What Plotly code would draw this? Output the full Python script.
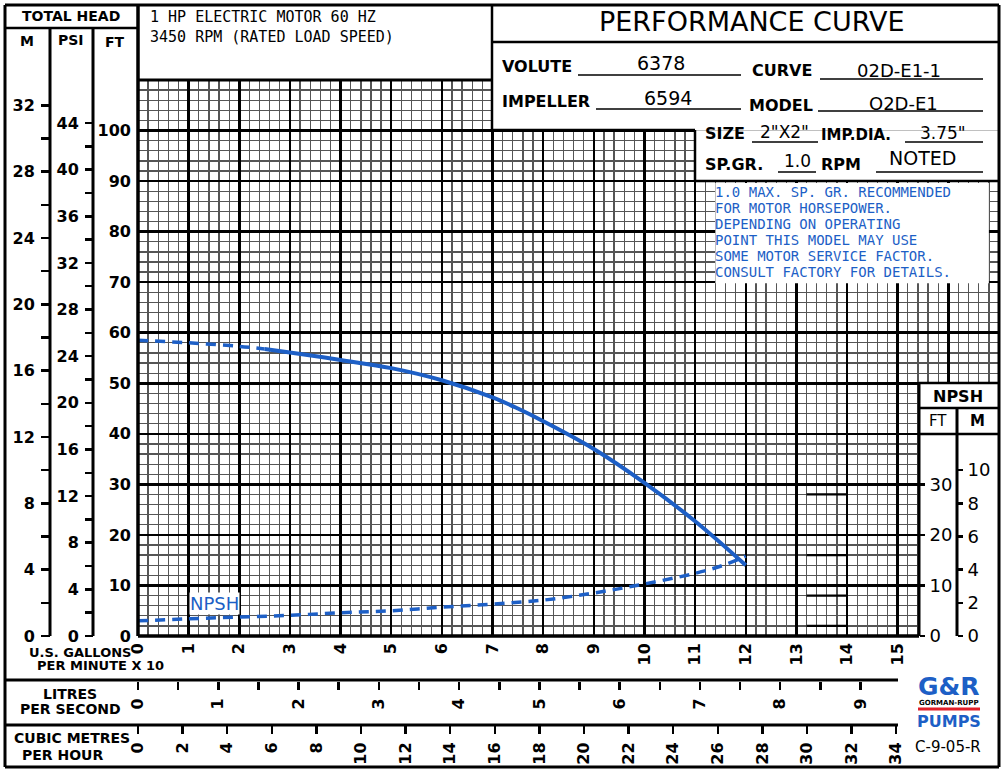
import plotly.graph_objects as go

# ---------------- data (flow in U.S. GPM x 10, head in feet) ----------------
head_dash_flow = [0, 1, 2, 2.5]
head_dash_ft = [58.5, 58.0, 57.3, 56.8]
head_flow = [2.5, 3, 4, 5, 6, 7, 7.5, 8, 9, 10, 11, 12]
head_ft = [56.8, 56.1, 54.6, 53.0, 50.6, 47.2, 45.0, 42.5, 37.0, 30.3, 22.7, 14.0]
npsh_flow = [0, 1, 2, 3, 4, 5, 6, 7, 8, 9, 10, 11, 11.5, 12]
npsh_ft = [3.0, 3.4, 3.75, 4.1, 4.6, 5.0, 5.7, 6.3, 7.1, 8.5, 10.3, 12.4, 13.8, 15.8]

gpm_ticks = list(range(0, 16))
ft_ticks = list(range(0, 101, 10))
m_ticks = list(range(0, 33, 4))
m_minor = list(range(2, 31, 4))
psi_ticks = list(range(0, 45, 4))
psi_minor = list(range(2, 43, 4))
npsh_ft_ticks = [0, 10, 20, 30]
npsh_m_ticks = [0, 2, 4, 6, 8, 10]
lps_ticks = list(range(0, 10))
lps_minor = [0.5, 1.5, 2.5, 3.5, 4.5, 5.5, 6.5, 7.5, 8.5]
m3h_ticks = list(range(0, 35, 2))

# unit conversions
FT_PER_M = 3.28084
FT_PER_PSI = 2.30666
LPS_PER_UNIT = 0.630902   # 10 US GPM in L/s
M3H_PER_UNIT = 2.27125    # 10 US GPM in m3/h

X_MAX = 17
Y_MAX = 110

W, H = 1001, 769
BLUE = "#1d5fc6"
FONT = "DejaVu Sans"
MONO = "DejaVu Sans Mono"


def PX(p):
    return p / W


def PY(p):
    return 1 - p / H


fig = go.Figure()

# curves
fig.add_trace(go.Scatter(x=head_dash_flow, y=head_dash_ft, mode="lines",
                         line=dict(color=BLUE, width=3.5, dash="10px,7px", shape="spline"),
                         hoverinfo="skip", showlegend=False))
fig.add_trace(go.Scatter(x=head_flow, y=head_ft, mode="lines",
                         line=dict(color=BLUE, width=4, shape="spline"),
                         hoverinfo="skip", showlegend=False))
fig.add_trace(go.Scatter(x=npsh_flow, y=npsh_ft, mode="lines",
                         line=dict(color=BLUE, width=3.5, dash="10px,7px", shape="spline"),
                         hoverinfo="skip", showlegend=False))
# empty traces to keep secondary axes alive
for xa, ya in [("x2", "y"), ("x3", "y"), ("x", "y2"), ("x", "y3"), ("x", "y4"), ("x", "y5")]:
    fig.add_trace(go.Scatter(x=[], y=[], xaxis=xa, yaxis=ya, hoverinfo="skip", showlegend=False))

xdom = [PX(138), PX(999)]
ydom = [PY(636), PY(80)]

tickfont = dict(family=FONT, size=16, color="black", weight="bold")
tickfont_y = dict(family=FONT, size=16, color="black", weight="bold")

common = dict(zeroline=False, showline=False, automargin=False, fixedrange=True)

fig.update_layout(
    width=W, height=H, template="none",
    margin=dict(l=0, r=0, t=0, b=0, pad=0),
    paper_bgcolor="white", plot_bgcolor="white",
    showlegend=False,
    xaxis=dict(domain=xdom, range=[0, X_MAX], anchor="y",
               tickmode="array", tickvals=list(range(0, X_MAX + 1)),
               ticktext=[str(v) if v in gpm_ticks else "" for v in range(0, X_MAX + 1)],
               tickangle=-90, ticks="", ticklabelstandoff=3, tickfont=tickfont,
               showgrid=True, gridcolor="black", gridwidth=2.5,
               minor=dict(tickmode="linear", tick0=0, dtick=0.2, showgrid=True,
                          gridcolor="#555555", gridwidth=1.3, ticks=""),
               **common),
    yaxis=dict(domain=ydom, range=[0, Y_MAX], anchor="x",
               tickmode="array", tickvals=list(range(0, Y_MAX + 1, 10)),
               ticktext=[str(v) if v in ft_ticks else "" for v in range(0, Y_MAX + 1, 10)],
               ticks="", ticklabelstandoff=6, tickfont=tickfont_y,
               showgrid=True, gridcolor="black", gridwidth=2.5,
               minor=dict(tickmode="linear", tick0=0, dtick=2, showgrid=True,
                          gridcolor="#555555", gridwidth=1.3, ticks=""),
               **common),
    # litres per second
    xaxis2=dict(overlaying="x", anchor="free", position=PY(681), side="bottom",
                range=[0, X_MAX * LPS_PER_UNIT], tickmode="array", tickvals=lps_ticks,
                ticktext=[str(v) for v in lps_ticks], tickangle=-90,
                ticks="outside", ticklen=8, tickwidth=2.5, tickcolor="black",
                ticklabelstandoff=2, tickfont=tickfont, showgrid=False,
                minor=dict(tickmode="array", tickvals=lps_minor, ticks="outside",
                           ticklen=8, tickwidth=2.5, tickcolor="black", showgrid=False),
                **common),
    # cubic metres per hour
    xaxis3=dict(overlaying="x", anchor="free", position=PY(725), side="bottom",
                range=[0, X_MAX * M3H_PER_UNIT], tickmode="array", tickvals=m3h_ticks,
                ticktext=[str(v) for v in m3h_ticks], tickangle=-90,
                ticks="outside", ticklen=8, tickwidth=2.5, tickcolor="black",
                ticklabelstandoff=2, tickfont=tickfont, showgrid=False,
                **common),
    # metres total head
    yaxis2=dict(overlaying="y", anchor="free", position=PX(50), side="left",
                range=[0, Y_MAX / FT_PER_M], tickmode="array", tickvals=m_ticks,
                ticktext=[str(v) for v in m_ticks],
                ticks="outside", ticklen=9, tickwidth=2.5, tickcolor="black",
                ticklabelstandoff=3, tickfont=tickfont_y,
                showgrid=False,
                minor=dict(tickmode="array", tickvals=m_minor, ticks="outside",
                           ticklen=9, tickwidth=2.5, tickcolor="black", showgrid=False),
                **common),
    # psi
    yaxis3=dict(overlaying="y", anchor="free", position=PX(93), side="left",
                range=[0, Y_MAX / FT_PER_PSI], tickmode="array", tickvals=psi_ticks,
                ticktext=[str(v) for v in psi_ticks],
                ticks="outside", ticklen=8, tickwidth=2.5, tickcolor="black",
                ticklabelstandoff=3, tickfont=tickfont_y,
                showgrid=False,
                minor=dict(tickmode="array", tickvals=psi_minor, ticks="outside",
                           ticklen=8, tickwidth=2.5, tickcolor="black", showgrid=False),
                **common),
    # NPSH ft
    yaxis4=dict(overlaying="y", anchor="free", position=PX(919), side="right",
                range=[0, Y_MAX], tickmode="array", tickvals=npsh_ft_ticks,
                ticktext=[str(v) for v in npsh_ft_ticks],
                ticks="outside", ticklen=5, tickwidth=2.5, tickcolor="black",
                ticklabelstandoff=1, tickfont=dict(family=FONT, size=18, color="black"),
                showgrid=False, **common),
    # NPSH m
    yaxis5=dict(overlaying="y", anchor="free", position=PX(957), side="right",
                range=[0, Y_MAX / FT_PER_M], tickmode="array", tickvals=npsh_m_ticks,
                ticktext=[str(v) for v in npsh_m_ticks],
                ticks="outside", ticklen=5, tickwidth=2.5, tickcolor="black",
                ticklabelstandoff=1, tickfont=dict(family=FONT, size=18, color="black"),
                showgrid=False, **common),
)


def RD(x0, y0, x1, y1):
    # white cover in data coords, drawn between gridlines and traces/labels
    fig.add_shape(type="rect", xref="x", yref="y", x0=x0, y0=y0, x1=x1, y1=y1,
                  fillcolor="white", line=dict(width=0), layer="between")


def L(x0, y0, x1, y1, w=2.5, color="black"):
    fig.add_shape(type="line", xref="paper", yref="paper", x0=PX(x0), y0=PY(y0),
                  x1=PX(x1), y1=PY(y1), line=dict(color=color, width=w), layer="above")


def T(x, y, s, size=14, anchor="center", color="black", family=FONT, bold=False, bg=None):
    kw = {}
    if bg:
        kw["bgcolor"] = bg
    fig.add_annotation(x=PX(x), y=PY(y), xref="paper", yref="paper",
                       text=("<b>%s</b>" % s) if bold else s, showarrow=False,
                       xanchor=anchor, yanchor="middle", borderpad=0,
                       font=dict(size=size, color=color, family=family), **kw)


# white areas covering grid (title block, note box, NPSH scale box)
RD(7.0, 100, 17.2, 111)
RD(11.0, 90, 17.2, 100)
RD(11.4, 69.8, 16.8, 89.6)
RD(15.42, -1, 17.2, 50)

# heavier short marks in grid
for yv in [2, 8, 16, 28]:
    fig.add_shape(type="line", xref="x", yref="y", x0=13.2, x1=14.0, y0=yv, y1=yv,
                  line=dict(color="black", width=2.2), layer="above")

# frame lines
L(5, 5, 999, 5, 3)
L(5, 767, 999, 767, 3)
L(5, 5, 5, 767, 3)
L(999, 5, 999, 767, 3)
L(5, 28, 138, 28, 2.5)
L(50, 28, 50, 636, 3)
L(93, 28, 93, 636, 3)
L(138, 5, 138, 636, 3.5)
L(138, 80, 492, 80, 3)
L(492, 5, 492, 130, 2.5)
L(492, 42, 999, 42, 2.5)
L(492, 130, 695, 130, 2.5)
L(695, 130, 695, 181, 2.5)
L(695, 181, 999, 181, 2.5)
L(138, 636, 919, 636, 3.5)
L(919, 383, 919, 636, 3)
L(919, 383, 999, 383, 2.5)
L(919, 408, 999, 408, 2.5)
L(919, 434, 999, 434, 2.5)
L(957, 408, 957, 636, 3)
L(5, 680, 898, 680, 3)
L(5, 725, 898, 725, 3)

# underlines in title block
for (a, b, y) in [(578, 741, 75), (820, 983, 79), (596, 741, 109), (818, 983, 111),
                  (752, 818, 142), (905, 983, 142), (778, 816, 172), (876, 983, 172)]:
    L(a, y, b, y, 1.5)

# left header
T(71, 16, "TOTAL HEAD", 14, bold=True)
T(27, 41, "M", 14, bold=True)
T(71, 40, "PSI", 14, bold=True)
T(115, 42, "FT", 14, bold=True)

# motor text
T(149, 17, "1 HP ELECTRIC MOTOR 60 HZ", 15, anchor="left", family=MONO)
T(149, 37, "3450 RPM (RATED LOAD SPEED)", 15, anchor="left", family=MONO)

# title block
T(752, 22, "PERFORMANCE CURVE", 27)
T(501, 67, "VOLUTE", 16, anchor="left", bold=True)
T(661, 63, "6378", 19)
T(751, 70, "CURVE", 16, anchor="left", bold=True)
T(899, 70, "02D-E1-1", 18)
T(501, 102, "IMPELLER", 16, anchor="left", bold=True)
T(668, 98, "6594", 19)
T(748, 105, "MODEL", 16, anchor="left", bold=True)
T(903, 103, "O2D-E1", 18)
T(704, 133, "SIZE", 16, anchor="left", bold=True)
T(784, 132, "2\"X2\"", 17)
T(820, 135, "IMP.DIA.", 15, anchor="left", bold=True)
T(943, 133, "3.75\"", 17)
T(704, 164, "SP.GR.", 16, anchor="left", bold=True)
T(797, 161, "1.0", 17)
T(820, 164, "RPM", 16, anchor="left", bold=True)
T(922, 158, "NOTED", 19)

# info note
note = ["1.0 MAX. SP. GR. RECOMMENDED", "FOR MOTOR HORSEPOWER.", "DEPENDING ON OPERATING",
        "POINT THIS MODEL MAY USE", "SOME MOTOR SERVICE FACTOR.", "CONSULT FACTORY FOR DETAILS."]
for i, s in enumerate(note):
    T(714, 192 + i * 16, s, 14, anchor="left", color=BLUE, family=MONO)

# NPSH header
T(958, 396, "NPSH", 16, bold=True)
T(938, 421, "FT", 15)
T(977, 421, "M", 15, bold=True)

# in-chart label
T(214, 603, "NPSH", 18, color=BLUE, bg="white")

# bottom axis titles
T(80, 652, "U.S. GALLONS", 13, bold=True)
T(100, 665, "PER MINUTE X 10", 13, bold=True)
T(70, 694, "LITRES", 14, bold=True)
T(70, 709, "PER SECOND", 14, bold=True)
T(72, 738, "CUBIC METRES", 14, bold=True)
T(62, 755, "PER HOUR", 14, bold=True)

# logo & drawing number
T(949, 686, "G&R", 25, color=BLUE, bold=True)
T(949, 703, "GORMAN-RUPP", 7, bold=True)
L(918, 709, 980, 709, 3, "#e0202a")
T(949, 721, "PUMPS", 16, color=BLUE, bold=True)
T(948, 747, "C-9-05-R", 15)

fig.write_html("out.html", config={"displayModeBar": False, "staticPlot": True},
               post_script="document.body.style.margin='0';document.body.style.padding='0';"
                           "document.body.style.overflow='hidden';")
